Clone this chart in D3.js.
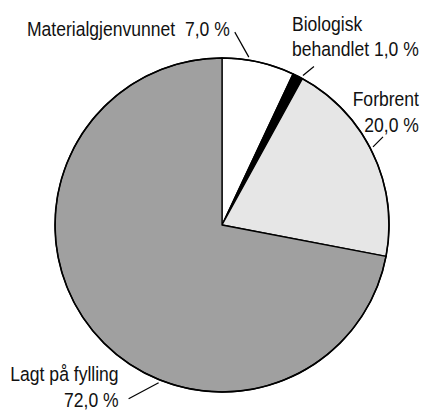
<!DOCTYPE html>
<html>
<head>
<meta charset="utf-8">
<script src="https://cdn.jsdelivr.net/npm/d3@7"></script>
<style>
  html, body { margin: 0; padding: 0; background: #fff; }
  svg { display: block; }
  text { font-family: "Liberation Sans Narrow", "Arial Narrow", "Liberation Sans", sans-serif; font-size: 19.5px; fill: #111; }
</style>
</head>
<body>
<svg width="423" height="410"></svg>
<script>
// data
const categories = ["Materialgjenvunnet", "Biologisk behandlet", "Forbrent", "Lagt på fylling"];
const values = [7.0, 1.0, 20.0, 72.0];
const labelLines = [
  ["Materialgjenvunnet\u00a0\u00a07,0 %"],
  ["Biologisk", "behandlet 1,0 %"],
  ["Forbrent", "20,0 %"],
  ["Lagt på fylling", "72,0 %"]
];
const colors = ["#ffffff", "#000000", "#e6e6e6", "#a0a0a0"];

// label layout: where on the slice the leader starts, leader offset, text offset (last line) / anchor
const labelLayout = [
  { frac: 0.36, dx: -14, dy: -25, tx: -5, ty: 4, anchor: "end" },
  { frac: 0.9, dx: 11, dy: -9, tx: -22, ty: -10, anchor: "start" },
  { frac: 0.47, dx: 10, dy: -10, tx: 36, ty: -5, anchor: "end" },
  { frac: 0.39, dx: -30, dy: 16, tx: -10, ty: 8, anchor: "end" }
];

const svg = d3.select("svg");
const cx = 222, cy = 225, r = 167;
const g = svg.append("g").attr("transform", `translate(${cx},${cy})`);

const pie = d3.pie().sort(null).value(d => d)(values);
const arc = d3.arc().innerRadius(0).outerRadius(r);

g.selectAll("path.slice")
  .data(pie)
  .enter().append("path")
  .attr("class", "slice")
  .attr("d", arc)
  .attr("fill", (d, i) => colors[i])
  .attr("stroke", "#000")
  .attr("stroke-width", 1.3)
  .attr("stroke-linejoin", "round");

// outer ring a bit heavier
g.append("circle").attr("r", r).attr("fill", "none").attr("stroke", "#000").attr("stroke-width", 1.6);

const lineH = 26, squeeze = 0.9;
pie.forEach((d, i) => {
  const L = labelLayout[i];
  const a = d.startAngle + L.frac * (d.endAngle - d.startAngle);
  const x1 = (r + 3) * Math.sin(a), y1 = -(r + 3) * Math.cos(a);
  const x2 = x1 + L.dx, y2 = y1 + L.dy;
  g.append("line")
    .attr("x1", x1).attr("y1", y1).attr("x2", x2).attr("y2", y2)
    .attr("stroke", "#000").attr("stroke-width", 1.2);
  const lines = labelLines[i];
  const t = g.append("text")
    .attr("text-anchor", L.anchor)
    .attr("transform", `translate(${x2 + L.tx},${y2 + L.ty - (lines.length - 1) * lineH}) scale(${squeeze},1)`);
  lines.forEach((s, j) => {
    t.append("tspan").attr("x", 0).attr("dy", j === 0 ? 0 : lineH).text(s);
  });
});
</script>
</body>
</html>
